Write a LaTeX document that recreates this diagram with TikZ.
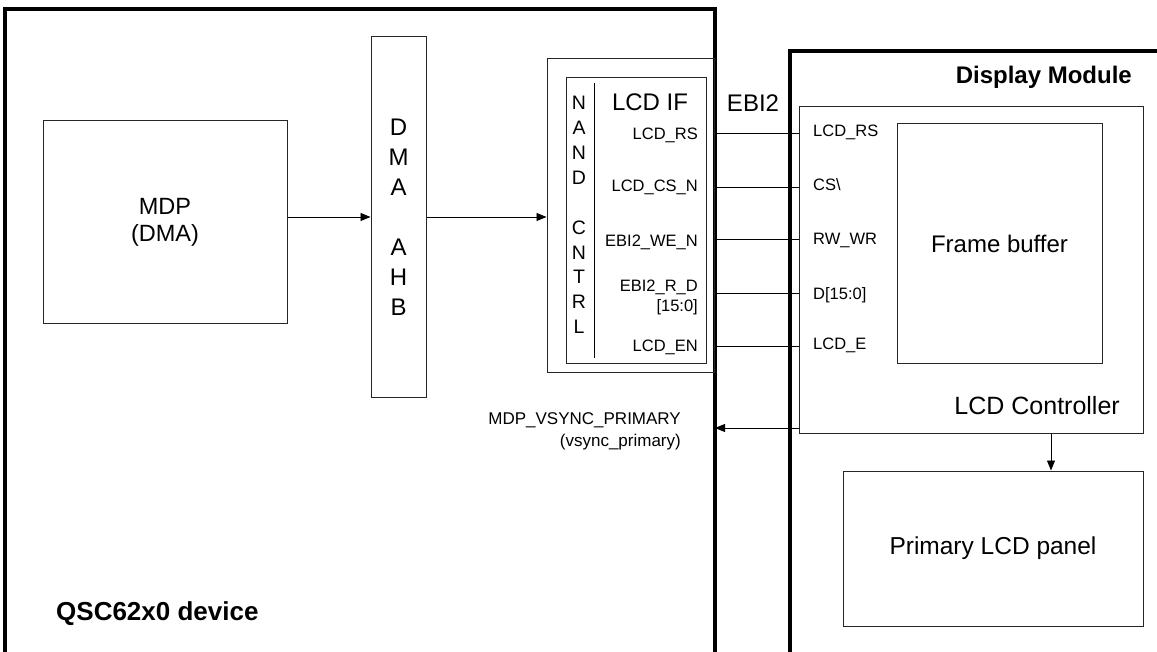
\documentclass[tikz,border=0pt]{standalone}
\usepackage{fontspec}
\setmainfont{Liberation Sans}
\usetikzlibrary{arrows.meta}
\begin{document}
\begin{tikzpicture}[x=1pt,y=-1pt,
  tbox/.style={draw=black!85, line width=1pt, inner sep=0pt},
  frame/.style={line width=3.2pt},
  sig/.style={inner sep=0pt, font=\fontsize{16.5}{18}\selectfont},
  big/.style={inner sep=0pt, font=\fontsize{24}{28}\selectfont},
  conn/.style={line width=0.9pt},
  arr/.style={conn, -{Triangle[length=10pt,width=8pt]}},
]
\useasboundingbox (0,0) rectangle (1157,652);
% frames
\draw[frame] (5,670) -- (5,9) -- (715,9) -- (715,670);
\draw[frame] (790,670) -- (790,51) -- (1170,51);
% QSC side
\node[tbox, minimum width=244pt, minimum height=203pt, align=center,
      font=\fontsize{23.5}{27}\selectfont] (mdp) at (165,222) {MDP\\(DMA)};
\node[tbox, minimum width=55pt, minimum height=360pt, align=center,
      font=\fontsize{24}{30}\selectfont] (dma) at (398.5,217) {D\\M\\A\\\mbox{}\\A\\H\\B};
\node[tbox, minimum width=167pt, minimum height=314pt] (lcdif) at (630.5,216) {};
\node[tbox, minimum width=140pt, minimum height=286pt] (inner) at (636,221) {};
\draw[conn] (594,83) -- (594,358);
\node[align=center, inner sep=0pt, font=\fontsize{19.5}{24.9}\selectfont] (nand) at (579,215) {N\\A\\N\\D\\\mbox{}\\C\\N\\T\\R\\L};
\node[big] (lcdiftitle) at (650,102) {LCD IF};
\node[big] (ebi) at (753,103) {EBI2};
\node[sig, anchor=east] (s1) at (698,135) {LCD\_RS};
\node[sig, anchor=east] (s2) at (698,187) {LCD\_CS\_N};
\node[sig, anchor=east] (s3) at (698,242) {EBI2\_WE\_N};
\node[sig, anchor=east, align=right, font=\fontsize{16.5}{20}\selectfont] (s4) at (698,297) {EBI2\_R\_D\\{}[15:0]};
\node[sig, anchor=east] (s5) at (698,347) {LCD\_EN};
\node[sig, anchor=east, align=right, font=\fontsize{17}{22}\selectfont] (vs) at (681,431) {MDP\_VSYNC\_PRIMARY\\(vsync\_primary)};
\node[inner sep=0pt, anchor=west, font=\fontsize{26}{28}\selectfont\bfseries] (qsc) at (56,614) {QSC62x0 device};
% display module
\node[inner sep=0pt, anchor=east, font=\fontsize{24}{28}\selectfont\bfseries] (dm) at (1132,77) {Display Module};
\node[tbox, minimum width=344pt, minimum height=326pt] (lcdc) at (971,270) {};
\node[tbox, minimum width=205pt, minimum height=240pt, font=\fontsize{24}{28}\selectfont] (fb) at (999.5,244) {Frame buffer};
\node[sig, anchor=west] (d1) at (813,132) {LCD\_RS};
\node[sig, anchor=west] (d2) at (813,185) {CS\textbackslash};
\node[sig, anchor=west] (d3) at (813,240) {RW\_WR};
\node[sig, anchor=west] (d4) at (813,295) {D[15:0]};
\node[sig, anchor=west] (d5) at (813,345) {LCD\_E};
\node[inner sep=0pt, anchor=east, font=\fontsize{25}{28}\selectfont] (lcdct) at (1120,406) {LCD Controller};
\node[tbox, minimum width=300pt, minimum height=155pt, font=\fontsize{24.5}{28}\selectfont] (panel) at (993,548.5) {Primary LCD panel};
% connectors
\draw[arr] (mdp.east |- dma.west) -- (dma.west);
\draw[arr] (dma.east) -- (dma.east -| lcdif.west);
\coordinate (q1) at (715,133);
\coordinate (q2) at (715,187);
\coordinate (q3) at (715,239);
\coordinate (q4) at (715,293);
\coordinate (q5) at (715,346);
\coordinate (qv) at (715,428);
\foreach \q in {q1,q2,q3,q4,q5} \draw[conn] (\q) -- (\q -| lcdc.west);
\draw[arr] (qv -| lcdc.west) -- (qv);
\draw[arr] ([xshift=80pt]lcdc.south) coordinate (pa) -- (pa |- panel.north);
\end{tikzpicture}
\end{document}
